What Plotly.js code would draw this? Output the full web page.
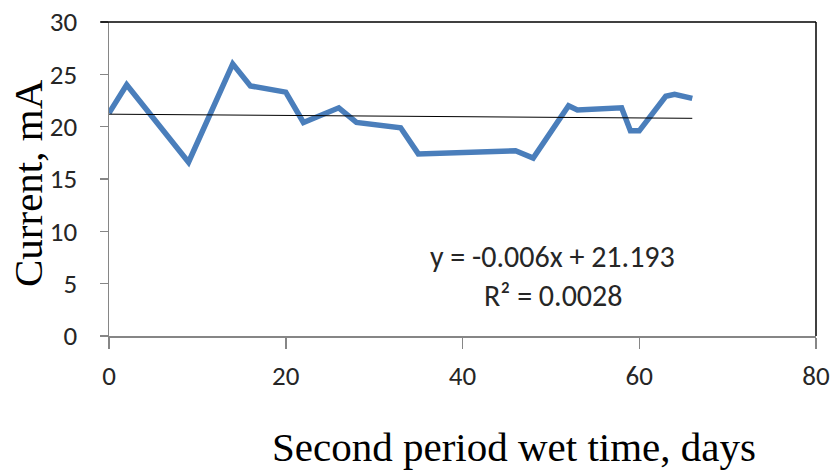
<!DOCTYPE html>
<html>
<head>
<meta charset="utf-8">
<script src="https://cdn.plot.ly/plotly-3.0.1.min.js"></script>
<style>html,body{margin:0;padding:0;background:#fff}#chart{width:835px;height:472px}</style>
</head>
<body>
<div id="chart"></div>
<script>
// Data
var days = [0, 2, 9, 14, 16, 20, 22, 26, 28, 33, 35, 46, 48, 52, 53, 58, 59, 60, 63, 64, 66];
var current = [21.3, 24.0, 16.6, 26.0, 23.9, 23.3, 20.4, 21.8, 20.4, 19.9, 17.4, 17.7, 17.0, 22.0, 21.6, 21.8, 19.6, 19.6, 22.9, 23.1, 22.7];
var trendSlope = -0.006;
var trendIntercept = 21.193;
var trendX = [0, 66];
var xTicks = [0, 20, 40, 60, 80];
var yTicks = [0, 5, 10, 15, 20, 25, 30];
var xTitle = "Second period wet time, days";
var yTitle = "Current, mA";
var eqText = "y = -0.006x + 21.193";
var r2Text = "R² = 0.0028";

var trendY = trendX.map(function (x) { return trendSlope * x + trendIntercept; });

var labelFont = {family: "Carlito, Calibri, Lato, 'Open Sans', sans-serif", size: 27, color: "#262626"};
var eqFont = {family: "Carlito, Calibri, Lato, 'Open Sans', sans-serif", size: 30, color: "#262626"};
var titleFont = {family: "'Liberation Serif', 'Times New Roman', serif", size: 41, color: "#000"};

var data = [
  {x: days, y: current, type: "scatter", mode: "lines",
   line: {color: "#4a7ebb", width: 5.5}, showlegend: false},
  {x: trendX, y: trendY, type: "scatter", mode: "lines",
   line: {color: "#000", width: 1}, showlegend: false}
];

var layout = {
  width: 835, height: 472,
  margin: {l: 109, r: 19, t: 22, b: 136},
  paper_bgcolor: "#fff", plot_bgcolor: "#fff",
  xaxis: {
    range: [0, 80], tickvals: xTicks, ticktext: xTicks.map(String),
    showgrid: false, zeroline: false, showline: true, linecolor: "#868686", linewidth: 1.5,
    ticks: "outside", ticklen: 11, tickcolor: "#868686", tickwidth: 1.5, tickfont: labelFont,
    ticklabelstandoff: 4
  },
  yaxis: {
    range: [0, 30], tickvals: yTicks, ticktext: yTicks.map(String),
    showgrid: false, zeroline: false, showline: true, linecolor: "#868686", linewidth: 1.5,
    ticks: "outside", ticklen: 8, tickcolor: "#868686", tickwidth: 1.5, tickfont: labelFont,
    ticklabelstandoff: 17
  },
  shapes: [
    {type: "line", xref: "paper", yref: "paper", x0: -0.012, x1: 1, y0: 1, y1: 1, line: {color: "#000", width: 1.5}},
    {type: "line", xref: "paper", yref: "paper", x0: 1, x1: 1, y0: 0, y1: 1, line: {color: "#000", width: 1.5}}
  ],
  annotations: [
    {x: 0.628, y: 0.252, xref: "paper", yref: "paper", text: eqText, showarrow: false,
     font: eqFont, xanchor: "center", yanchor: "middle"},
    {x: 0.628, y: 0.128, xref: "paper", yref: "paper", text: r2Text, showarrow: false,
     font: eqFont, xanchor: "center", yanchor: "middle"},
    {x: 0, y: 0, xref: "paper", yref: "paper", text: xTitle, showarrow: false,
     font: titleFont, xanchor: "center", yanchor: "middle"},
    {x: 0, y: 0, xref: "paper", yref: "paper", text: yTitle, showarrow: false,
     font: titleFont, textangle: -90, xanchor: "center", yanchor: "middle"}
  ]
};

// convert pixel positions of the two titles into paper coordinates
var pw = 835 - 109 - 19, ph = 472 - 22 - 136;
layout.annotations[2].x = (514 - 109) / pw; layout.annotations[2].y = (336 - 447) / ph;
layout.annotations[3].x = (28 - 109) / pw; layout.annotations[3].y = (336 - 183) / ph;

Plotly.newPlot("chart", data, layout, {displayModeBar: false, staticPlot: true});
</script>
</body>
</html>
